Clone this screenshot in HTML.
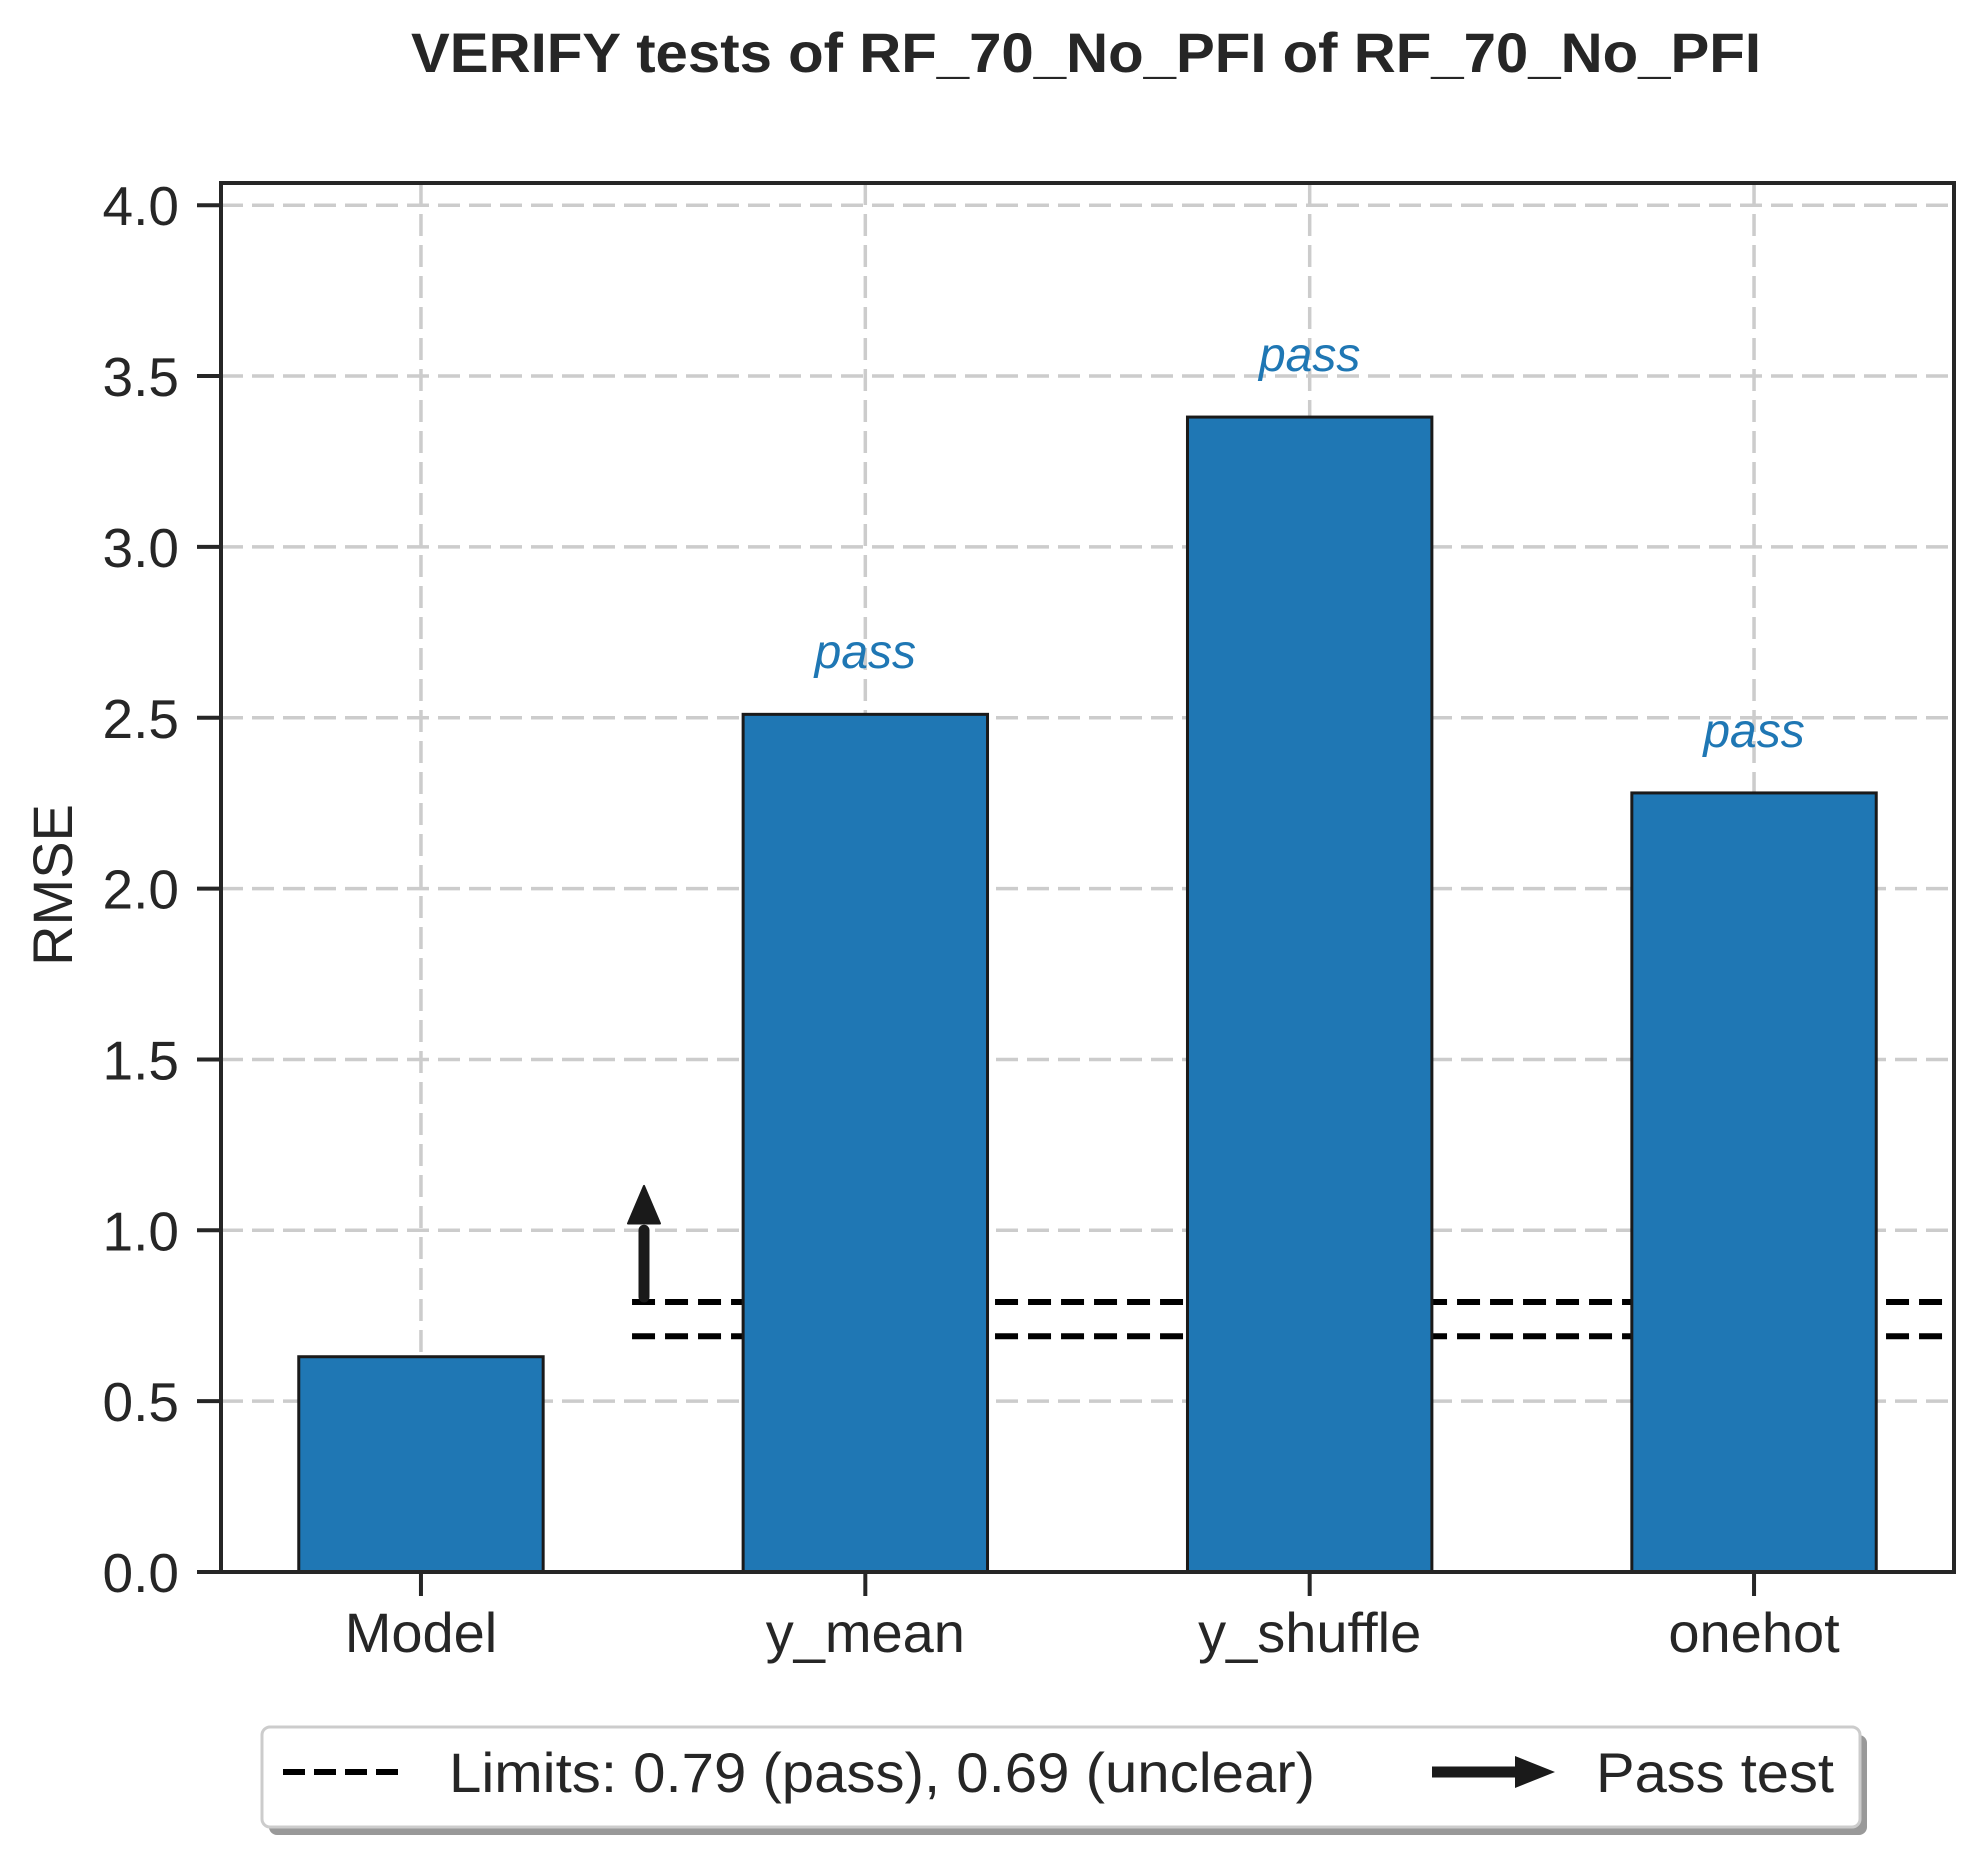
<!DOCTYPE html>
<html><head><meta charset="utf-8"><style>
html,body{margin:0;padding:0;background:#fff;}
svg{display:block;font-family:"Liberation Sans",Arial,sans-serif;}
</style></head><body>
<svg id="chart" width="1983" height="1858" viewBox="0 0 1983 1858" xmlns="http://www.w3.org/2000/svg">
<rect x="0" y="0" width="1983" height="1858" fill="#fff"/>
<text x="1086" y="72" text-anchor="middle" font-size="56" font-weight="bold" fill="#262626" textLength="1350" lengthAdjust="spacingAndGlyphs">VERIFY tests of RF_70_No_PFI of RF_70_No_PFI</text>
<g id="grid"></g>
<g id="limits"></g>
<g id="bars"></g>
<g id="labels"></g>
<g id="arrow"></g>
<rect x="221" y="183" width="1733" height="1389" fill="none" stroke="#262626" stroke-width="4"/>
<g id="yticks"></g>
<g id="xticks"></g>
<text transform="translate(72,885) rotate(-90)" text-anchor="middle" font-size="56" fill="#262626">RMSE</text>
<g>
<rect x="269" y="1735" width="1598" height="100" rx="8" fill="#999"/>
<rect x="262" y="1727" width="1598" height="100" rx="8" fill="#fff" stroke="#cccccc" stroke-width="3"/>
<line x1="283" y1="1772" x2="400" y2="1772" stroke="#000" stroke-width="6" stroke-dasharray="22,9"/>
<text x="449" y="1792" font-size="56" fill="#262626" textLength="866" lengthAdjust="spacingAndGlyphs">Limits: 0.79 (pass), 0.69 (unclear)</text>
<line x1="1432" y1="1772" x2="1520" y2="1772" stroke="#1a1a1a" stroke-width="11"/>
<polygon points="1515,1756 1555,1772 1515,1788" fill="#1a1a1a"/>
<text x="1596" y="1792" font-size="56" fill="#262626" textLength="238" lengthAdjust="spacingAndGlyphs">Pass test</text>
</g>
</svg>
<script>
const categories = ["Model", "y_mean", "y_shuffle", "onehot"];
const rmseValues = [0.63, 2.51, 3.38, 2.28];
const passLabels = ["", "pass", "pass", "pass"];
const yTickValues = [0.0, 0.5, 1.0, 1.5, 2.0, 2.5, 3.0, 3.5, 4.0];
const yTickLabels = ["0.0", "0.5", "1.0", "1.5", "2.0", "2.5", "3.0", "3.5", "4.0"];
const limitValues = [0.79, 0.69];
const arrowFrom = [0.805];
const arrowTo = [1.13];

const NS = "http://www.w3.org/2000/svg";
const L = 221, R = 1954, T = 183, B = 1572;
const xMin = -0.45, xMax = 3.45, yMin = 0, yMax = 4.065;
function xs(v){ return L + (v - xMin) / (xMax - xMin) * (R - L); }
function ys(v){ return B - (v - yMin) / (yMax - yMin) * (B - T); }
function mk(tag, attrs, parent){
  const e = document.createElementNS(NS, tag);
  for (const k in attrs) e.setAttribute(k, attrs[k]);
  parent.appendChild(e);
  return e;
}
const grid = document.getElementById("grid");
const yt = document.getElementById("yticks");
yTickValues.forEach((v, i) => {
  const y = ys(v);
  const g = mk("line", {x1: L, x2: R, y1: y, y2: y, stroke: "#cccccc", "stroke-width": 3.5, "stroke-dasharray": "22,9"}, grid);
  
  
  const t = mk("line", {x1: L - 24, x2: L, y1: y, y2: y, stroke: "#262626", "stroke-width": 4}, yt);
  
  
  const lb = mk("text", {x: 179, y: y + 20, "text-anchor": "end", "font-size": 55, fill: "#262626"}, yt);
  lb.textContent = yTickLabels[i];
  
  
});
const xt = document.getElementById("xticks");
categories.forEach((c, i) => {
  const x = xs(i);
  const g = mk("line", {x1: x, x2: x, y1: T, y2: B, stroke: "#cccccc", "stroke-width": 3.5, "stroke-dasharray": "22,9"}, grid);
  
  
  const t = mk("line", {x1: x, x2: x, y1: B, y2: B + 24, stroke: "#262626", "stroke-width": 4}, xt);
  
  
  const lb = mk("text", {x: x, y: 1652, "text-anchor": "middle", "font-size": 56, fill: "#262626"}, xt);
  lb.textContent = c;
  
  
});
const lim = document.getElementById("limits");
limitValues.forEach(v => {
  const l = mk("line", {x1: xs(0.475), x2: R, y1: ys(v), y2: ys(v), stroke: "#000", "stroke-width": 6, "stroke-dasharray": "23,10"}, lim);
  
  
});
const bars = document.getElementById("bars");
const labs = document.getElementById("labels");
const bw = 0.55;
rmseValues.forEach((v, i) => {
  const x0 = xs(i - bw / 2), x1 = xs(i + bw / 2);
  const r = mk("rect", {x: x0, y: ys(v), width: x1 - x0, height: ys(0) - ys(v), fill: "#1f77b4", stroke: "#1a1a1a", "stroke-width": 3}, bars);
  
  
  if (passLabels[i]) {
    const t = mk("text", {x: xs(i), y: ys(v + 0.135), "text-anchor": "middle", "font-size": 48, "font-style": "italic", fill: "#1f77b4"}, labs);
    t.textContent = passLabels[i];
    
    
  }
});
const ar = document.getElementById("arrow");
const ax = 644;
const shaft = mk("line", {x1: ax, x2: ax, y1: ys(arrowFrom[0]), y2: ys(1.0), stroke: "#1a1a1a", "stroke-width": 11, "stroke-linecap": "round"}, ar);


const hb = ys(1.02), tip = ys(arrowTo[0]);
const head = mk("polygon", {points: `${ax-16},${hb} ${ax+16},${hb} ${ax},${tip}`, fill: "#1a1a1a", stroke: "#1a1a1a", "stroke-width": 2, "stroke-linejoin": "round"}, ar);


</script>
</body></html>
